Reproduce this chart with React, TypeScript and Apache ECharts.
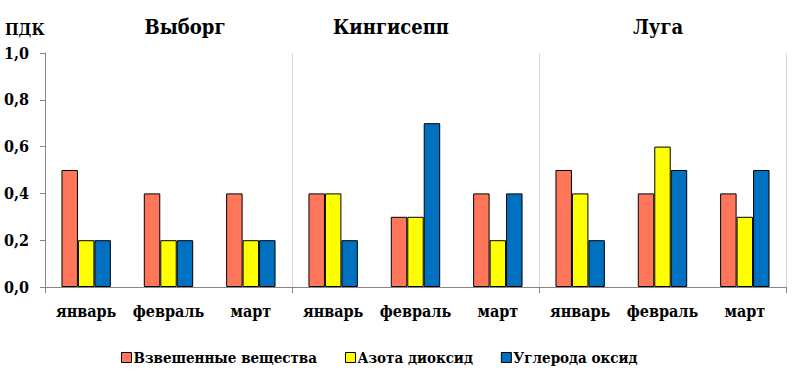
import React, { useEffect, useRef } from "react";
import * as echarts from "echarts";

const groups = ["Выборг", "Кингисепп", "Луга"];
const months = ["январь", "февраль", "март"];
const categories = [...months, ...months, ...months];
const seriesNames = ["Взвешенные вещества", "Азота диоксид", "Углерода оксид"];
const suspended = [0.5, 0.4, 0.4, 0.4, 0.3, 0.4, 0.5, 0.4, 0.4];
const nitrogen = [0.2, 0.2, 0.2, 0.4, 0.3, 0.2, 0.4, 0.6, 0.3];
const carbon = [0.2, 0.2, 0.2, 0.2, 0.7, 0.4, 0.2, 0.5, 0.5];
const colors = ["#FF765A", "#FFFF00", "#0070C0"];

const FONT = "DejaVu Serif Condensed";

export default function App() {
  const ref = useRef<HTMLDivElement>(null);
  useEffect(() => {
    if (!ref.current) return;
    const chart = echarts.init(ref.current, undefined, { renderer: "svg" });
    const values = [suspended, nitrogen, carbon];
    const titleX = [185, 391, 658];
    chart.setOption({
      animation: false,
      textStyle: { fontFamily: FONT },
      grid: { left: 45, right: 23, top: 53, bottom: 91, containLabel: false },
      legend: {
        top: 345,
        left: 116,
        itemWidth: 10,
        itemHeight: 10,
        itemGap: 28,
        icon: "rect",
        textStyle: { fontFamily: FONT, fontSize: 15, fontWeight: "bold", color: "#000", padding: [0, 0, 0, -3] },
        data: seriesNames.map((n, i) => ({
          name: n,
          itemStyle: { color: colors[i], borderColor: "#000", borderWidth: 1 },
        })),
      },
      graphic: groups.map((g, i) => ({
        type: "text",
        x: titleX[i],
        y: 27,
        style: {
          text: g,
          fontFamily: FONT,
          fontSize: 20,
          fontWeight: "bold",
          fill: "#000",
          textAlign: "center",
          textVerticalAlign: "middle",
        },
      })).concat([
        {
          type: "text",
          x: 5,
          y: 29,
          style: {
            text: "ПДК",
            fontFamily: FONT,
            fontSize: 16,
            fontWeight: "bold",
            fill: "#000",
            textAlign: "left",
            textVerticalAlign: "middle",
          },
        } as any,
      ]),
      xAxis: [
        {
          type: "category",
          data: categories,
          position: "bottom",
          axisLine: { show: true, lineStyle: { color: "#868686", width: 1 } },
          axisTick: { show: false },
          axisLabel: { interval: 0, fontFamily: FONT, fontSize: 16, fontWeight: "bold", color: "#000", margin: 16 },
        },
        {
          type: "category",
          data: groups,
          position: "bottom",
          axisLine: { show: false },
          axisTick: { show: true, length: 6, lineStyle: { color: "#868686" } },
          axisLabel: { show: false },
          splitLine: { show: true, lineStyle: { color: "#D9D9D9", width: 1 } },
        },
      ],
      yAxis: {
        type: "value",
        min: 0,
        max: 1,
        interval: 0.2,
        axisLine: { show: true, lineStyle: { color: "#868686" } },
        axisTick: { show: true, length: 5, lineStyle: { color: "#868686" } },
        splitLine: { show: false },
        axisLabel: {
          fontFamily: FONT,
          fontSize: 16,
          fontWeight: "bold",
          color: "#000",
          margin: 16,
          formatter: (v: number) => v.toFixed(1).replace(".", ","),
        },
      },
      series: seriesNames.map((n, i) => ({
        name: n,
        type: "bar",
        xAxisIndex: 0,
        data: values[i],
        barGap: "0%",
        barCategoryGap: "40%",
        itemStyle: { color: colors[i], borderColor: "#000", borderWidth: 1 },
      })),
    });
    return () => chart.dispose();
  }, []);
  return (
    <div
      ref={ref}
      style={{ position: "absolute", left: 0, top: 0, width: 809, height: 378 }}
    />
  );
}
